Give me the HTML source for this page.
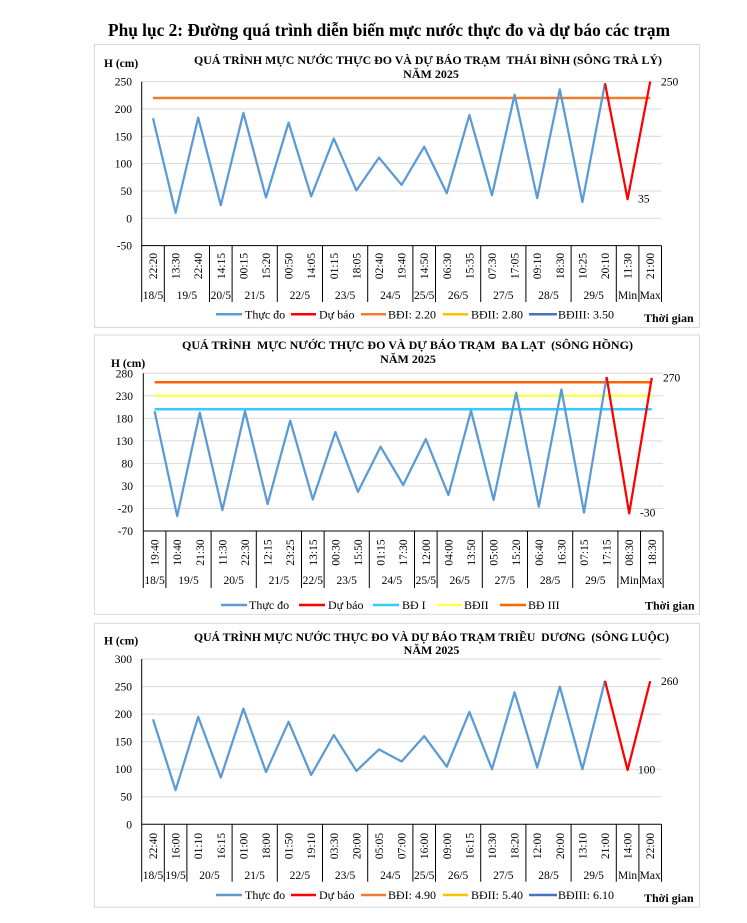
<!DOCTYPE html>
<html><head><meta charset="utf-8"><style>
html,body{margin:0;padding:0;background:#fff;}
svg{display:block;}
text{font-family:"Liberation Serif","DejaVu Serif",serif;fill:#000;}
.t{font-size:11.5px;}
.lg{font-size:12px;}
.b{font-weight:bold;}
.pre{white-space:pre;}
</style></head><body>
<svg width="747" height="923" viewBox="0 0 747 923" xmlns="http://www.w3.org/2000/svg">
<rect width="747" height="923" fill="#fff"/>
<text x="108" y="36" font-size="18" class="b" textLength="562" lengthAdjust="spacingAndGlyphs">Phụ lục 2: Đường quá trình diễn biến mực nước thực đo và dự báo các trạm</text>

<!-- ============ CHART 1 ============ -->
<rect x="94.5" y="44.5" width="605" height="283" fill="#fff" stroke="#D9D9D9" stroke-width="1"/>
<text x="104" y="67" class="t b">H (cm)</text>
<text x="194" y="64" font-size="12" class="b pre" xml:space="preserve" textLength="468" lengthAdjust="spacingAndGlyphs">QUÁ TRÌNH MỰC NƯỚC THỰC ĐO VÀ DỰ BÁO TRẠM  THÁI BÌNH (SÔNG TRÀ LÝ)</text>
<text x="431" y="78" font-size="12" class="b" text-anchor="middle">NĂM 2025</text>
<g stroke="#D9D9D9" stroke-width="1">
<line x1="141.7" y1="81.6" x2="661.5" y2="81.6"/>
<line x1="141.7" y1="109.0" x2="661.5" y2="109.0"/>
<line x1="141.7" y1="136.3" x2="661.5" y2="136.3"/>
<line x1="141.7" y1="163.6" x2="661.5" y2="163.6"/>
<line x1="141.7" y1="191.0" x2="661.5" y2="191.0"/>
<line x1="141.7" y1="218.3" x2="661.5" y2="218.3"/>
</g>
<g class="t" text-anchor="end">
<text x="132" y="85.6">250</text><text x="132" y="113">200</text><text x="132" y="140.3">150</text><text x="132" y="167.6">100</text><text x="132" y="195">50</text><text x="132" y="222.3">0</text><text x="132" y="249.6">-50</text>
</g>
<g stroke="#000" stroke-width="1">
<line x1="141.7" y1="81.6" x2="141.7" y2="302"/>
<line x1="141.7" y1="245.6" x2="661.5" y2="245.6"/>
<line x1="164.3" y1="245.6" x2="164.3" y2="302"/><line x1="209.5" y1="245.6" x2="209.5" y2="302"/><line x1="232.1" y1="245.6" x2="232.1" y2="302"/><line x1="277.3" y1="245.6" x2="277.3" y2="302"/><line x1="322.5" y1="245.6" x2="322.5" y2="302"/><line x1="367.7" y1="245.6" x2="367.7" y2="302"/><line x1="412.9" y1="245.6" x2="412.9" y2="302"/><line x1="435.5" y1="245.6" x2="435.5" y2="302"/><line x1="480.7" y1="245.6" x2="480.7" y2="302"/><line x1="525.9" y1="245.6" x2="525.9" y2="302"/><line x1="571.1" y1="245.6" x2="571.1" y2="302"/><line x1="616.3" y1="245.6" x2="616.3" y2="302"/><line x1="638.9" y1="245.6" x2="638.9" y2="302"/><line x1="661.5" y1="245.6" x2="661.5" y2="302"/>
</g>
<g class="t" text-anchor="middle">
<text transform="translate(157,266) rotate(-90)">22:20</text><text transform="translate(179.6,266) rotate(-90)">13:30</text><text transform="translate(202.2,266) rotate(-90)">22:40</text><text transform="translate(224.8,266) rotate(-90)">14:15</text><text transform="translate(247.4,266) rotate(-90)">00:15</text><text transform="translate(270,266) rotate(-90)">15:20</text><text transform="translate(292.6,266) rotate(-90)">00:50</text><text transform="translate(315.2,266) rotate(-90)">14:05</text><text transform="translate(337.8,266) rotate(-90)">01:15</text><text transform="translate(360.4,266) rotate(-90)">18:05</text><text transform="translate(383,266) rotate(-90)">02:40</text><text transform="translate(405.6,266) rotate(-90)">19:40</text><text transform="translate(428.2,266) rotate(-90)">14:50</text><text transform="translate(450.8,266) rotate(-90)">06:30</text><text transform="translate(473.4,266) rotate(-90)">15:35</text><text transform="translate(496,266) rotate(-90)">07:30</text><text transform="translate(518.6,266) rotate(-90)">17:05</text><text transform="translate(541.2,266) rotate(-90)">09:10</text><text transform="translate(563.8,266) rotate(-90)">18:30</text><text transform="translate(586.4,266) rotate(-90)">10:25</text><text transform="translate(609,266) rotate(-90)">20:10</text><text transform="translate(631.6,266) rotate(-90)">11:30</text><text transform="translate(654.2,266) rotate(-90)">21:00</text>
<text x="153" y="299">18/5</text><text x="186.9" y="299">19/5</text><text x="220.8" y="299">20/5</text><text x="254.7" y="299">21/5</text><text x="299.9" y="299">22/5</text><text x="345.1" y="299">23/5</text><text x="390.3" y="299">24/5</text><text x="424.2" y="299">25/5</text><text x="458.1" y="299">26/5</text><text x="503.3" y="299">27/5</text><text x="548.5" y="299">28/5</text><text x="593.7" y="299">29/5</text><text x="627.6" y="299">Min</text><text x="650.2" y="299">Max</text>
</g>
<line x1="153" y1="98" x2="650.2" y2="98" stroke="#ED7D31" stroke-width="2.5"/>
<polyline fill="none" stroke="#5B9BD5" stroke-width="2.25" stroke-linejoin="round" points="153,118.3 175.6,212.8 198.2,117.7 220.8,205.2 243.4,112.8 266,197.5 288.6,122.6 311.2,196.4 333.8,138.5 356.4,190.4 379,157.6 401.6,184.9 424.2,146.7 446.8,193.2 469.4,115 492,195.3 514.6,94.7 537.2,198.1 559.8,89.3 582.4,201.9 605,83.3"/>
<polyline fill="none" stroke="#FF0000" stroke-width="2.25" stroke-linejoin="round" points="605,83.3 627.6,199.2 650.2,81.6"/>
<text x="661" y="85.5" class="t">250</text>
<text x="638" y="202.5" class="t">35</text>
<g stroke-width="2.5">
<line x1="216" y1="314.3" x2="242" y2="314.3" stroke="#5B9BD5"/>
<line x1="291" y1="314.3" x2="316" y2="314.3" stroke="#FF0000"/>
<line x1="361" y1="314.3" x2="386" y2="314.3" stroke="#ED7D31"/>
<line x1="443" y1="314.3" x2="468" y2="314.3" stroke="#FFC000"/>
<line x1="529" y1="314.3" x2="557" y2="314.3" stroke="#4472C4"/>
</g>
<g class="lg">
<text x="245" y="318.3">Thực đo</text><text x="319" y="318.3">Dự báo</text><text x="388" y="318.3">BĐI: 2.20</text><text x="471" y="318.3">BĐII: 2.80</text><text x="558" y="318.3">BĐIII: 3.50</text>
</g>
<text x="644" y="322" class="lg b">Thời gian</text>

<!-- ============ CHART 2 ============ -->
<rect x="94.5" y="335" width="605" height="279.3" fill="#fff" stroke="#D9D9D9" stroke-width="1"/>
<text x="111" y="367" class="t b">H (cm)</text>
<text x="182" y="349" font-size="12" class="b pre" xml:space="preserve" textLength="451" lengthAdjust="spacingAndGlyphs">QUÁ TRÌNH  MỰC NƯỚC THỰC ĐO VÀ DỰ BÁO TRẠM  BA LẠT  (SÔNG HỒNG)</text>
<text x="408" y="363" font-size="12" class="b" text-anchor="middle">NĂM 2025</text>
<g stroke="#D9D9D9" stroke-width="1">
<line x1="143.3" y1="373.3" x2="663.1" y2="373.3"/>
<line x1="143.3" y1="395.8" x2="663.1" y2="395.8"/>
<line x1="143.3" y1="418.4" x2="663.1" y2="418.4"/>
<line x1="143.3" y1="440.9" x2="663.1" y2="440.9"/>
<line x1="143.3" y1="463.4" x2="663.1" y2="463.4"/>
<line x1="143.3" y1="486.0" x2="663.1" y2="486.0"/>
<line x1="143.3" y1="508.5" x2="663.1" y2="508.5"/>
</g>
<g class="t" text-anchor="end">
<text x="133" y="377.3">280</text><text x="133" y="399.8">230</text><text x="133" y="422.4">180</text><text x="133" y="444.9">130</text><text x="133" y="467.4">80</text><text x="133" y="490">30</text><text x="133" y="512.5">-20</text><text x="133" y="535">-70</text>
</g>
<g stroke="#000" stroke-width="1">
<line x1="143.3" y1="373.3" x2="143.3" y2="588"/>
<line x1="143.3" y1="531" x2="663.1" y2="531"/>
<line x1="165.9" y1="531" x2="165.9" y2="588"/><line x1="211.1" y1="531" x2="211.1" y2="588"/><line x1="256.3" y1="531" x2="256.3" y2="588"/><line x1="301.5" y1="531" x2="301.5" y2="588"/><line x1="324.1" y1="531" x2="324.1" y2="588"/><line x1="369.3" y1="531" x2="369.3" y2="588"/><line x1="414.5" y1="531" x2="414.5" y2="588"/><line x1="437.1" y1="531" x2="437.1" y2="588"/><line x1="482.3" y1="531" x2="482.3" y2="588"/><line x1="527.5" y1="531" x2="527.5" y2="588"/><line x1="572.7" y1="531" x2="572.7" y2="588"/><line x1="617.9" y1="531" x2="617.9" y2="588"/><line x1="640.5" y1="531" x2="640.5" y2="588"/><line x1="663.1" y1="531" x2="663.1" y2="588"/>
</g>
<g class="t" text-anchor="middle">
<text transform="translate(158.6,552.5) rotate(-90)">19:40</text><text transform="translate(181.2,552.5) rotate(-90)">10:40</text><text transform="translate(203.8,552.5) rotate(-90)">21:30</text><text transform="translate(226.4,552.5) rotate(-90)">11:30</text><text transform="translate(249,552.5) rotate(-90)">22:30</text><text transform="translate(271.6,552.5) rotate(-90)">12:15</text><text transform="translate(294.2,552.5) rotate(-90)">23:25</text><text transform="translate(316.8,552.5) rotate(-90)">13:15</text><text transform="translate(339.4,552.5) rotate(-90)">00:30</text><text transform="translate(362,552.5) rotate(-90)">15:50</text><text transform="translate(384.6,552.5) rotate(-90)">01:15</text><text transform="translate(407.2,552.5) rotate(-90)">17:30</text><text transform="translate(429.8,552.5) rotate(-90)">12:00</text><text transform="translate(452.4,552.5) rotate(-90)">04:00</text><text transform="translate(475,552.5) rotate(-90)">13:50</text><text transform="translate(497.6,552.5) rotate(-90)">05:00</text><text transform="translate(520.2,552.5) rotate(-90)">15:20</text><text transform="translate(542.8,552.5) rotate(-90)">06:40</text><text transform="translate(565.4,552.5) rotate(-90)">16:30</text><text transform="translate(588,552.5) rotate(-90)">07:15</text><text transform="translate(610.6,552.5) rotate(-90)">17:15</text><text transform="translate(633.2,552.5) rotate(-90)">08:30</text><text transform="translate(655.8,552.5) rotate(-90)">18:30</text>
<text x="154.6" y="584">18/5</text><text x="188.5" y="584">19/5</text><text x="233.7" y="584">20/5</text><text x="278.9" y="584">21/5</text><text x="312.8" y="584">22/5</text><text x="346.7" y="584">23/5</text><text x="391.9" y="584">24/5</text><text x="425.8" y="584">25/5</text><text x="459.7" y="584">26/5</text><text x="504.9" y="584">27/5</text><text x="550.1" y="584">28/5</text><text x="595.3" y="584">29/5</text><text x="629.2" y="584">Min</text><text x="651.8" y="584">Max</text>
</g>
<line x1="154.6" y1="382.3" x2="651.8" y2="382.3" stroke="#FF6600" stroke-width="2.5"/>
<line x1="154.6" y1="395.8" x2="651.8" y2="395.8" stroke="#FFFF4D" stroke-width="2.5"/>
<line x1="154.6" y1="409.3" x2="651.8" y2="409.3" stroke="#33CCFF" stroke-width="2.5"/>
<polyline fill="none" stroke="#5B9BD5" stroke-width="2.25" stroke-linejoin="round" points="154.6,411.2 177.2,516.1 199.8,412.7 222.4,510.1 245,411.2 267.6,504 290.2,420.6 312.8,499.5 335.4,431.9 358,491.8 380.6,446.7 403.2,485 425.8,439.1 448.4,495 471,410.7 493.6,499.9 516.2,392.7 538.8,506.7 561.4,389.5 584,512.5 606.6,376.9"/>
<polyline fill="none" stroke="#FF0000" stroke-width="2.25" stroke-linejoin="round" points="606.6,376.9 629.2,513.4 651.8,377.8"/>
<text x="663" y="381.7" class="t">270</text>
<text x="640" y="516.7" class="t">-30</text>
<g stroke-width="2.5">
<line x1="221" y1="605" x2="247" y2="605" stroke="#5B9BD5"/>
<line x1="299" y1="605" x2="325" y2="605" stroke="#FF0000"/>
<line x1="373" y1="605" x2="399" y2="605" stroke="#33CCFF"/>
<line x1="437" y1="605" x2="462" y2="605" stroke="#FFFF4D"/>
<line x1="500" y1="605" x2="526" y2="605" stroke="#FF6600"/>
</g>
<g class="lg">
<text x="249" y="609">Thực đo</text><text x="328" y="609">Dự báo</text><text x="402" y="609">BĐ I</text><text x="464" y="609">BĐII</text><text x="528" y="609">BĐ III</text>
</g>
<text x="645" y="609.5" class="lg b">Thời gian</text>

<!-- ============ CHART 3 ============ -->
<rect x="94.5" y="623.3" width="605" height="284" fill="#fff" stroke="#D9D9D9" stroke-width="1"/>
<text x="104" y="644.7" class="t b">H (cm)</text>
<text x="194" y="641" font-size="12" class="b pre" xml:space="preserve" textLength="475" lengthAdjust="spacingAndGlyphs">QUÁ TRÌNH MỰC NƯỚC THỰC ĐO VÀ DỰ BÁO TRẠM TRIỀU  DƯƠNG  (SÔNG LUỘC)</text>
<text x="431.5" y="654" font-size="12" class="b" text-anchor="middle">NĂM 2025</text>
<g stroke="#D9D9D9" stroke-width="1">
<line x1="141.7" y1="659" x2="661.5" y2="659"/>
<line x1="141.7" y1="686.6" x2="661.5" y2="686.6"/>
<line x1="141.7" y1="714.1" x2="661.5" y2="714.1"/>
<line x1="141.7" y1="741.7" x2="661.5" y2="741.7"/>
<line x1="141.7" y1="769.2" x2="661.5" y2="769.2"/>
<line x1="141.7" y1="796.7" x2="661.5" y2="796.7"/>
</g>
<g class="t" text-anchor="end">
<text x="132" y="663">300</text><text x="132" y="690.6">250</text><text x="132" y="718.1">200</text><text x="132" y="745.7">150</text><text x="132" y="773.2">100</text><text x="132" y="800.7">50</text><text x="132" y="828.3">0</text>
</g>
<g stroke="#000" stroke-width="1">
<line x1="141.7" y1="659" x2="141.7" y2="881.7"/>
<line x1="141.7" y1="824.3" x2="661.5" y2="824.3"/>
<line x1="164.3" y1="824.3" x2="164.3" y2="881.7"/><line x1="186.9" y1="824.3" x2="186.9" y2="881.7"/><line x1="232.1" y1="824.3" x2="232.1" y2="881.7"/><line x1="277.3" y1="824.3" x2="277.3" y2="881.7"/><line x1="322.5" y1="824.3" x2="322.5" y2="881.7"/><line x1="367.7" y1="824.3" x2="367.7" y2="881.7"/><line x1="412.9" y1="824.3" x2="412.9" y2="881.7"/><line x1="435.5" y1="824.3" x2="435.5" y2="881.7"/><line x1="480.7" y1="824.3" x2="480.7" y2="881.7"/><line x1="525.9" y1="824.3" x2="525.9" y2="881.7"/><line x1="571.1" y1="824.3" x2="571.1" y2="881.7"/><line x1="616.3" y1="824.3" x2="616.3" y2="881.7"/><line x1="638.9" y1="824.3" x2="638.9" y2="881.7"/><line x1="661.5" y1="824.3" x2="661.5" y2="881.7"/>
</g>
<g class="t" text-anchor="middle">
<text transform="translate(157,846) rotate(-90)">22:40</text><text transform="translate(179.6,846) rotate(-90)">16:00</text><text transform="translate(202.2,846) rotate(-90)">01:10</text><text transform="translate(224.8,846) rotate(-90)">16:15</text><text transform="translate(247.4,846) rotate(-90)">01:00</text><text transform="translate(270,846) rotate(-90)">18:00</text><text transform="translate(292.6,846) rotate(-90)">01:50</text><text transform="translate(315.2,846) rotate(-90)">19:10</text><text transform="translate(337.8,846) rotate(-90)">03:30</text><text transform="translate(360.4,846) rotate(-90)">20:00</text><text transform="translate(383,846) rotate(-90)">05:05</text><text transform="translate(405.6,846) rotate(-90)">07:00</text><text transform="translate(428.2,846) rotate(-90)">16:00</text><text transform="translate(450.8,846) rotate(-90)">09:00</text><text transform="translate(473.4,846) rotate(-90)">16:15</text><text transform="translate(496,846) rotate(-90)">10:30</text><text transform="translate(518.6,846) rotate(-90)">18:20</text><text transform="translate(541.2,846) rotate(-90)">12:00</text><text transform="translate(563.8,846) rotate(-90)">20:00</text><text transform="translate(586.4,846) rotate(-90)">13:10</text><text transform="translate(609,846) rotate(-90)">21:00</text><text transform="translate(631.6,846) rotate(-90)">14:00</text><text transform="translate(654.2,846) rotate(-90)">22:00</text>
<text x="153" y="879">18/5</text><text x="175.6" y="879">19/5</text><text x="209.5" y="879">20/5</text><text x="254.7" y="879">21/5</text><text x="299.9" y="879">22/5</text><text x="345.1" y="879">23/5</text><text x="390.3" y="879">24/5</text><text x="424.2" y="879">25/5</text><text x="458.1" y="879">26/5</text><text x="503.3" y="879">27/5</text><text x="548.5" y="879">28/5</text><text x="593.7" y="879">29/5</text><text x="627.6" y="879">Min</text><text x="650.2" y="879">Max</text>
</g>
<polyline fill="none" stroke="#5B9BD5" stroke-width="2.25" stroke-linejoin="round" points="153,719.3 175.6,790.1 198.2,716.9 220.8,777.5 243.4,708.6 266,772 288.6,721.8 311.2,775 333.8,735 356.4,770.9 379,749.4 401.6,761.5 424.2,736.1 446.8,766.7 469.4,711.9 492,769.2 514.6,692.3 537.2,767.5 559.8,686.6 582.4,769.2 605,680.8"/>
<polyline fill="none" stroke="#FF0000" stroke-width="2.25" stroke-linejoin="round" points="605,680.8 627.6,770 650.2,681.1"/>
<text x="661" y="685" class="t">260</text>
<text x="638" y="773.7" class="t">100</text>
<g stroke-width="2.5">
<line x1="216" y1="895" x2="242" y2="895" stroke="#5B9BD5"/>
<line x1="291" y1="895" x2="316" y2="895" stroke="#FF0000"/>
<line x1="361" y1="895" x2="386" y2="895" stroke="#ED7D31"/>
<line x1="443" y1="895" x2="468" y2="895" stroke="#FFC000"/>
<line x1="529" y1="895" x2="557" y2="895" stroke="#4472C4"/>
</g>
<g class="lg">
<text x="245" y="899">Thực đo</text><text x="319" y="899">Dự báo</text><text x="388" y="899">BĐI: 4.90</text><text x="471" y="899">BĐII: 5.40</text><text x="558" y="899">BĐIII: 6.10</text>
</g>
<text x="644" y="902" class="lg b">Thời gian</text>
</svg>
</body></html>
